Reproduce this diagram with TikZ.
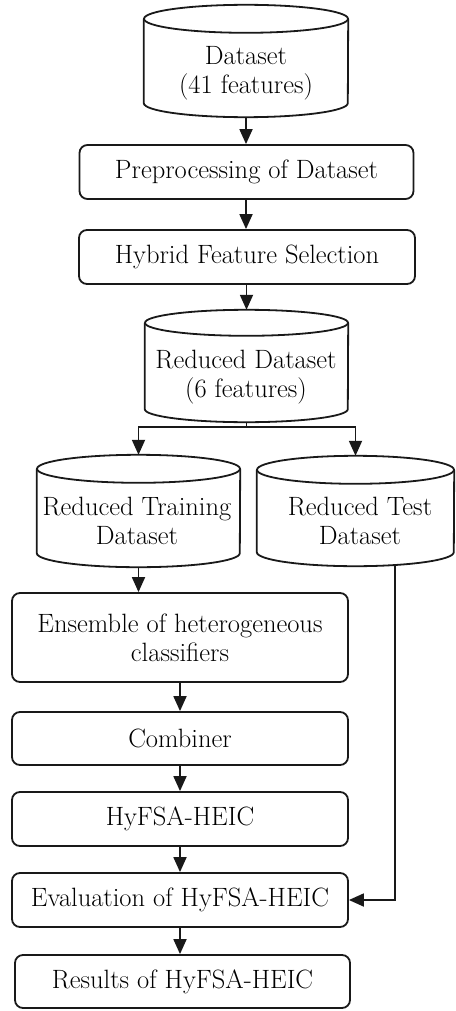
\documentclass[tikz,border=0pt]{standalone}
\usetikzlibrary{arrows.meta,calc}
\newcommand\cylout[3]{%
  \draw[ln] ([yshift=-#3pt]#1.north) ellipse[x radius=#2pt, y radius=#3pt];
  \draw[ln] ([yshift=-#3pt]#1.north west) -- ([yshift=#3pt]#1.south west)
     arc[start angle=180, end angle=360, x radius=#2pt, y radius=#3pt]
     -- ([yshift=-#3pt]#1.north east);}
\begin{document}
\begin{tikzpicture}[x=1pt,y=-1pt,
  ln/.style={line width=1.8pt, black!90},
  arr/.style={ln, -{Triangle[width=13pt,length=15pt]}},
  box/.style={ln, draw, rounded corners=8pt, inner sep=0pt, align=center,
     font=\fontsize{26.5}{29}\selectfont, text=black},
  cylbody/.style={draw=none, inner sep=0pt},
  txt/.style={inner sep=0pt, align=center, font=\fontsize{26.5}{29}\selectfont}]
\useasboundingbox (0,0) rectangle (455,1011);
% cylinders
\node[cylbody, minimum width=204pt, minimum height=112pt] (ds) at (246,61) {};
\cylout{ds}{102}{14}
\node[txt] (dst) at (246,73) {Dataset\\(41 features)};

\node[box, minimum width=334pt, minimum height=54pt] (pre) at (246.5,172) {Preprocessing of Dataset};
\node[box, minimum width=336pt, minimum height=54pt] (hyb) at (247,257) {Hybrid Feature Selection};

\node[cylbody, minimum width=203pt, minimum height=112pt] (rd) at (246.5,366) {};
\cylout{rd}{101.5}{13}
\node[txt] (rdt) at (246,377) {Reduced Dataset\\(6 features)};

\node[cylbody, minimum width=203pt, minimum height=112pt] (tr) at (138.5,511) {};
\cylout{tr}{101.5}{14}
\node[txt] (trt) at (137,521) {Reduced Training\\Dataset};

\node[cylbody, minimum width=197pt, minimum height=110pt] (te) at (355.5,511) {};
\cylout{te}{98.5}{14}
\node[txt] (tet) at (360,521) {Reduced Test\\Dataset};

\node[box, minimum width=336pt, minimum height=89pt] (ens) at (180,637.5) {Ensemble of heterogeneous\\classifiers};
\node[box, minimum width=336pt, minimum height=53pt] (com) at (180,738.5) {Combiner};
\node[box, minimum width=336pt, minimum height=54pt] (hy) at (180,819) {HyFSA-HEIC};
\node[box, minimum width=336pt, minimum height=54pt] (ev) at (180,900) {Evaluation of HyFSA-HEIC};
\node[box, minimum width=335pt, minimum height=53pt] (res) at (182.5,981.5) {Results of HyFSA-HEIC};

% connectors
\draw[arr] (ds.south) -- (ds.south |- pre.north);
\draw[arr] (pre.south -| ds.south) -- (ds.south |- hyb.north);
\draw[arr] (hyb.south -| rd.north) -- (rd.north);
\coordinate (br) at ([yshift=-5pt]rd.south);
\draw[ln] (rd.south) -- (br);
\draw[arr] (br) -| (tr.north);
\draw[arr] (br) -| (te.north);
\draw[arr] (tr.south) -- (tr.south |- ens.north);
\draw[arr] (ens.south) -- (com.north);
\draw[arr] (com.south) -- (hy.north);
\draw[arr] (hy.south) -- (ev.north);
\draw[arr] (ev.south) -- (ev.south |- res.north);
\coordinate (tx) at ([xshift=39.5pt,yshift=1.2pt]te.south);
\draw[arr] (tx) |- (ev.east);
\end{tikzpicture}
\end{document}
